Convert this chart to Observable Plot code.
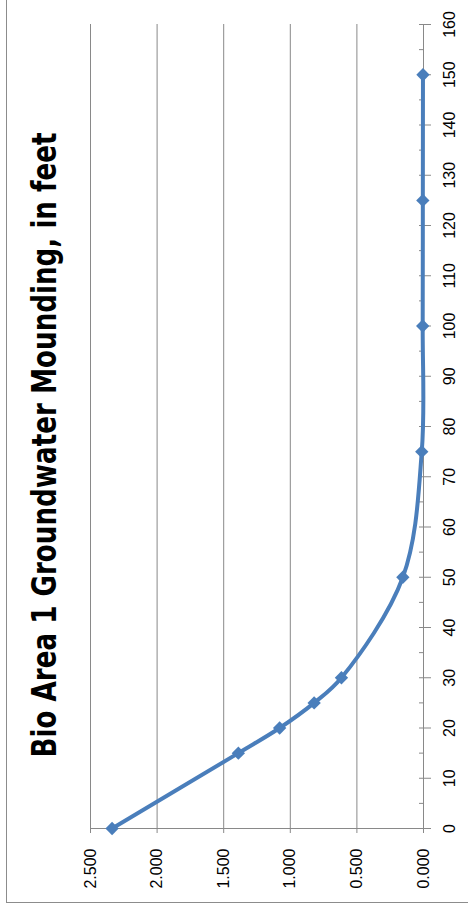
<!DOCTYPE html>
<html><head><meta charset="utf-8">
<script src="https://cdn.jsdelivr.net/npm/d3@7"></script>
<script src="https://cdn.jsdelivr.net/npm/@observablehq/plot@0.6"></script>
<style>
html,body{margin:0;padding:0;background:#fff;overflow:hidden;width:468px;height:915px}
#frame{position:absolute;left:6px;top:-2px;width:480px;height:903px;border:1px solid #8c8c8c;}
#chart{position:absolute;left:0;top:0}
</style></head><body><div id="frame"></div><div id="chart"></div>
<script>
const title = "Bio Area 1 Groundwater Mounding, in feet";
const distance = [0, 15, 20, 25, 30, 50, 75, 100, 125, 150];
const mounding = [2.338, 1.390, 1.080, 0.821, 0.616, 0.155, 0.013, 0.006, 0.005, 0.004];
const distanceTicks = [0, 10, 20, 30, 40, 50, 60, 70, 80, 90, 100, 110, 120, 130, 140, 150, 160];
const distanceMinorTicks = [5, 15, 25, 35, 45, 55, 65, 75, 85, 95, 105, 115, 125, 135, 145, 155];
const moundingTicks = [0, 0.5, 1, 1.5, 2, 2.5];
const moundingTickLabels = ["0.000", "0.500", "1.000", "1.500", "2.000", "2.500"];

const data = distance.map((d, i) => ({distance: d, mounding: mounding[i]}));
const valueLabels = moundingTicks.map((v, i) => ({v, label: moundingTickLabels[i]}));

const gray = "#898989";
const blue = "#4a7ebb";
const tickFont = "'Liberation Sans', Arial, sans-serif";

const chart = Plot.plot({
  width: 468,
  height: 915,
  marginLeft: 90,
  marginRight: 45,
  marginTop: 24,
  marginBottom: 87,
  x: {domain: [2.5, 0], axis: null},
  y: {domain: [0, 160], axis: null},
  style: {background: "transparent", overflow: "visible"},
  marks: [
    Plot.ruleX(moundingTicks, {x: d => d, y1: 0, y2: 160, stroke: gray, strokeWidth: 1}),
    Plot.ruleY([0], {y: d => d, x1: 2.5, x2: 0, stroke: gray, strokeWidth: 1}),
    Plot.axisX({anchor: "bottom", ticks: moundingTicks, tickSize: 5, stroke: gray, fill: "none", label: null, tickFormat: () => ""}),
    Plot.axisY({anchor: "right", ticks: distanceTicks, tickSize: 12, dx: -5, stroke: gray, fill: "none", label: null, tickFormat: () => ""}),
    Plot.axisY({anchor: "right", ticks: distanceMinorTicks, tickSize: 5, dx: -5, stroke: gray, fill: "none", label: null, tickFormat: () => ""}),
    Plot.text(valueLabels, {x: "v", text: "label", frameAnchor: "bottom", dy: 20, rotate: -90, textAnchor: "end", lineAnchor: "middle", fontSize: 16, fontFamily: tickFont, fill: "#000"}),
    Plot.text(distanceTicks, {y: d => d, text: d => String(d), frameAnchor: "right", dx: 26, rotate: -90, textAnchor: "middle", lineAnchor: "middle", fontSize: 16, fontFamily: tickFont, fill: "#000"}),
    Plot.line(data, {x: "mounding", y: "distance", stroke: blue, strokeWidth: 4, curve: "catmull-rom"}),
    Plot.dot(data, {x: "mounding", y: "distance", symbol: "diamond2", r: 6, fill: blue, stroke: "none"}),
    Plot.text([title], {frameAnchor: "left", dx: -35, dy: 18.5, rotate: -90, textAnchor: "middle", lineAnchor: "bottom", fontSize: 33, fontWeight: "bold", fontFamily: "'Liberation Sans Narrow', 'DejaVu Sans Condensed', sans-serif", fill: "#000"})
  ]
});
document.getElementById("chart").appendChild(chart);
for (const t of chart.querySelectorAll("text")) {
  if (t.textContent === title) {
    t.setAttribute("textLength", 625);
    t.setAttribute("lengthAdjust", "spacingAndGlyphs");
  }
}
</script></body></html>
